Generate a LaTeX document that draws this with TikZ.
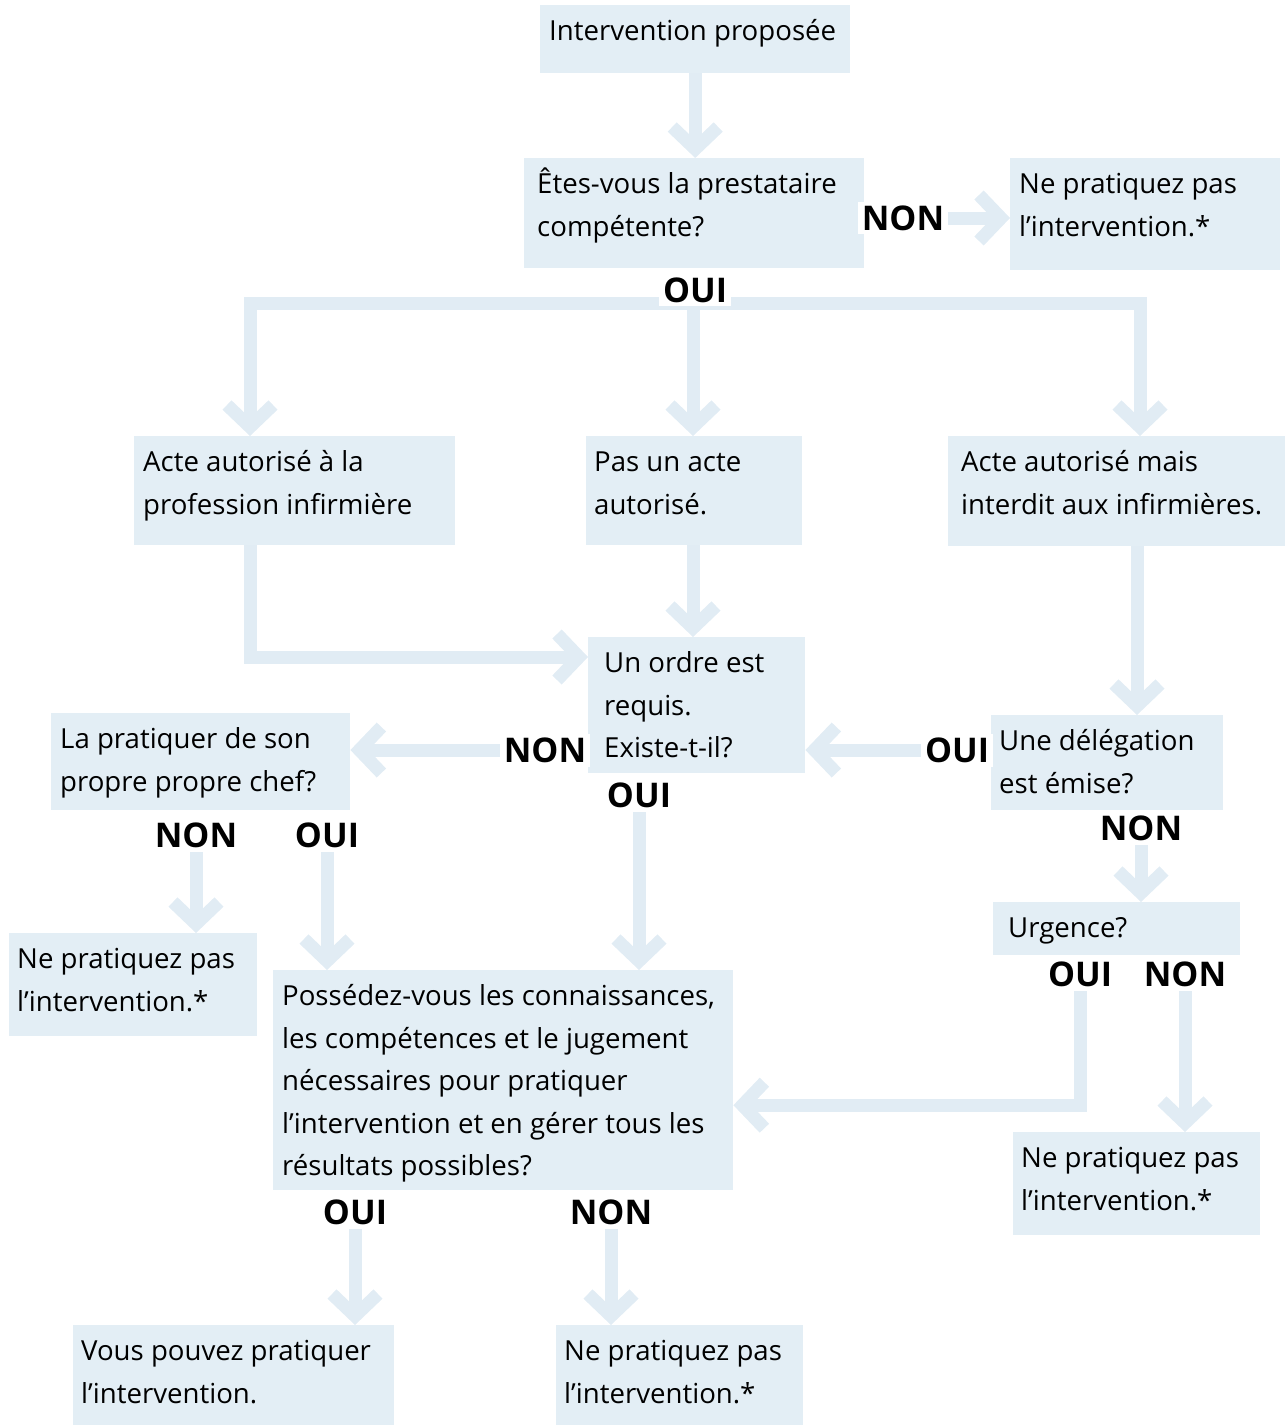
\documentclass[tikz,border=0pt]{standalone}
\usepackage{fontspec}
\setmainfont{Open Sans}
\usetikzlibrary{arrows.meta,backgrounds,positioning}
\definecolor{boxblue}{HTML}{E3EEF5}
\definecolor{flowblue}{HTML}{E1ECF4}
% box text: [left pad]{width}{height}{lines}
\newcommand{\bx}[4][9]{\hspace*{#1pt}\parbox[t][\dimexpr#3pt-12pt\relax][t]{\dimexpr#2pt-#1pt\relax}{\raggedright\strut #4}}

\begin{document}
\begin{tikzpicture}[x=1pt,y=-1pt]
		\tikzset{box/.style={fill=boxblue, anchor=north west, inner xsep=0pt, inner ysep=6pt,
				font=\fontsize{27.6}{42.5}\selectfont}}
		\tikzset{answer/.style={fill=white, inner sep=4pt, font=\fontsize{34}{36}\selectfont\bfseries}}
		\tikzset{flow/.style={draw=flowblue, line width=13pt, line join=miter,
				-{Straight Barb[sharp, length=22pt, width=46pt]}}}
		\tikzset{flowline/.style={draw=flowblue, line width=13pt, line join=miter}}
		\useasboundingbox (0,0) rectangle (1285,1427);

		\node[box] (a) at (540,5) {\bx{310}{68}{Intervention proposée}};
		\node[box] (b) at (524,158) {\bx[13]{340}{110}{Êtes-vous la prestataire\\compétente?}};
		\node[box] (c) at (1010,158) {\bx{270}{112}{Ne pratiquez pas\\l’intervention.*}};
		\node[box] (d) at (134,436) {\bx{321}{109}{Acte autorisé à la\\profession infirmière}};
		\node[box] (e) at (586,436) {\bx[8]{216}{109}{Pas un acte\\autorisé.}};
		\node[box] (f) at (948,436) {\bx[13]{337}{110}{Acte autorisé mais\\interdit aux infirmières.}};
		\node[box] (g) at (588,637) {\bx[16]{217}{136}{Un ordre est\\requis.\\Existe-t-il?}};
		\node[box] (h) at (991,715) {\bx[8]{232}{95}{Une délégation\\est émise?}};
		\node[box] (i) at (51,713) {\bx{299}{97}{La pratiquer de son\\propre propre chef?}};
		\node[box] (j) at (9,933) {\bx[8]{248}{103}{Ne pratiquez pas\\l’intervention.*}};
		\node[box] (k) at (273,970) {\bx{460}{220}{Possédez-vous les connaissances,\\les compétences et le jugement\\nécessaires pour pratiquer\\l’intervention et en gérer tous les\\résultats possibles?}};
		\node[box] (l) at (993,902) {\bx[15]{247}{53}{Urgence?}};
		\node[box] (m) at (1013,1132) {\bx[8]{247}{103}{Ne pratiquez pas\\l’intervention.*}};
		\node[box] (n) at (73,1325) {\bx[8]{321}{100}{Vous pouvez pratiquer\\l’intervention.}};
		\node[box] (o) at (556,1325) {\bx[8]{247}{100}{Ne pratiquez pas\\l’intervention.*}};

		\node[answer] (nonB) at (903,218) {NON};
		\node[answer] (ouiB) at (695,290) {OUI};
		\node[answer] (nonG) at (545,750) {NON};
		\node[answer] (ouiG) at (639,795) {OUI};
		\node[answer] (ouiH) at (957,750) {OUI};
		\node[answer] (nonH) at (1141,828) {NON};
		\node[answer] (nonI) at (196,835) {NON};
		\node[answer] (ouiI) at (327,835) {OUI};
		\node[answer] (ouiL) at (1080,974) {OUI};
		\node[answer] (nonL) at (1185,974) {NON};
		\node[answer] (ouiK) at (355,1212) {OUI};
		\node[answer] (nonK) at (611,1212) {NON};

		\coordinate (split) at (693,303);

		\begin{pgfonlayer}{background}
			\draw[flow] (a.south) -- (a.south |- b.north);
			\draw[flow] (nonB.east) -- (nonB.east -| c.west);
			\draw[flowline] (ouiB.south) -- (split);
			\draw[flow] (split) -| ([xshift=116pt]d.north west);
			\draw[flow] (split) -- (split |- e.north);
			\draw[flow] (split) -| ([xshift=192pt]f.north west);
			\draw[flow] ([xshift=116pt]d.south west) |- ([yshift=-20pt]g.north west);
			\draw[flow] (e.south -| split) -- (split |- g.north);
			\draw[flow] ([xshift=189pt]f.south west) -- ([xshift=189pt]f.south west |- h.north);
			\draw[flow] (ouiH.west) -- (ouiH.west -| g.east);
			\draw[flow] (nonG.west) -- (nonG.west -| i.east);
			\draw[flow] (nonI.south) -- (nonI.south |- j.north);
			\draw[flow] (ouiI.south) -- (ouiI.south |- k.north);
			\draw[flow] (ouiG.south) -- (ouiG.south |- k.north);
			\draw[flow] (nonH.south) -- (nonH.south |- l.north);
			\draw[flow] (ouiL.south) |- ([yshift=-25pt]k.east);
			\draw[flow] (nonL.south) -- (nonL.south |- m.north);
			\draw[flow] (ouiK.south) -- (ouiK.south |- n.north);
			\draw[flow] (nonK.south) -- (nonK.south |- o.north);
		\end{pgfonlayer}
\end{tikzpicture}
\end{document}
